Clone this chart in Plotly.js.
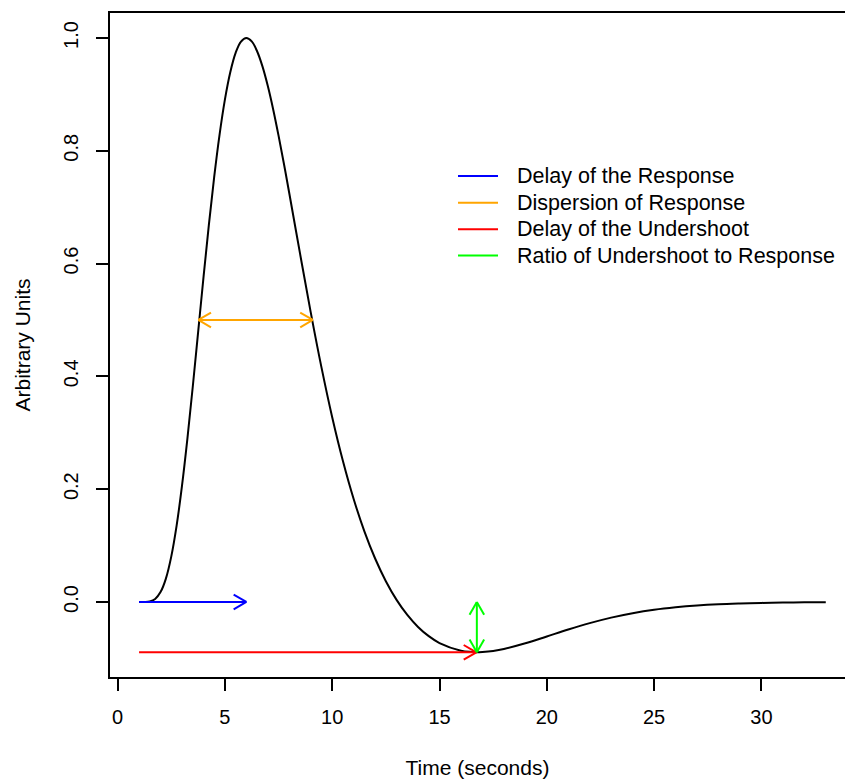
<!DOCTYPE html>
<html>
<head>
<meta charset="utf-8">
<script src="https://cdn.plot.ly/plotly-3.0.1.min.js"></script>
<style>html,body{margin:0;padding:0;background:#fff;}</style>
</head>
<body>
<div id="chart" style="width:845px;height:780px;"></div>
<script>
// ---- data ----
var timeSec = [1, 1.25, 1.5, 1.75, 2, 2.25, 2.5, 2.75, 3, 3.25, 3.5, 3.75, 4, 4.25, 4.5, 4.75,
  5, 5.25, 5.5, 5.75, 6, 6.25, 6.5, 6.75, 7, 7.25, 7.5, 7.75, 8, 8.5, 9, 9.5, 10, 10.5,
  11, 11.5, 12, 12.5, 13, 13.5, 14, 14.5, 15, 16, 16.5, 16.75, 17, 17.5, 18, 19, 20, 21, 22, 23, 24,
  25, 26, 27, 28, 29, 30, 31, 32, 33];
var response = [0, 0.00004, 0.0009, 0.0053, 0.0175, 0.0415, 0.0805, 0.1355, 0.2057, 0.2887,
  0.3807, 0.4776, 0.5746, 0.6678, 0.7533, 0.8284, 0.8908, 0.9394, 0.9737, 0.9937,
  1.0, 0.9939, 0.9765, 0.9496, 0.9147, 0.8733, 0.8268, 0.7770, 0.7248, 0.6180, 0.5135, 0.4159, 0.3276, 0.2499,
  0.1826, 0.1253, 0.0771, 0.0369, 0.0038, -0.0229, -0.0442, -0.0606, -0.0728, -0.0863, -0.0887, -0.0892, -0.0887, -0.0867, -0.0833,
  -0.0733, -0.0611, -0.0488, -0.0375, -0.0277, -0.0199, -0.0138, -0.0094, -0.0062,
  -0.0040, -0.0026, -0.0016, -0.0010, -0.0006, -0.0004];

var arrowNames = ['Delay of the Response', 'Dispersion of Response', 'Delay of the Undershoot', 'Ratio of Undershoot to Response'];
var arrowColors = ['#0000ff', '#ffa500', '#ff0000', '#00ff00'];
var arrowX0 = [1, 3.76, 1, 16.74];
var arrowX1 = [6, 9.1, 16.72, 16.74];
var arrowY0 = [0, 0.5, -0.0892, -0.0892];
var arrowY1 = [0, 0.5, -0.0892, 0];
var arrowBoth = [false, true, false, true];

var xTicks = [0, 5, 10, 15, 20, 25, 30];
var yTicks = [0, 0.2, 0.4, 0.6, 0.8, 1.0];
var yTickText = ['0.0', '0.2', '0.4', '0.6', '0.8', '1.0'];

// ---- layout constants ----
var W = 845, H = 780, ML = 110, MR = 0, MT = 13, MB = 103;
var PW = W - ML - MR, PH = H - MT - MB;
function px2paperX(px) { return (px - ML) / PW; }
function px2paperY(py) { return (H - MB - py) / PH; }
var FONT = 'Liberation Sans, Arial, Helvetica, sans-serif';

var traces = [{
  x: timeSec, y: response, type: 'scatter', mode: 'lines',
  line: {color: '#000', width: 2, shape: 'spline', smoothing: 1},
  showlegend: false, hoverinfo: 'x+y'
}];

var shapes = [];
var HEAD_L = 12.7, HEAD_W = 7.3;
function addHead(xt, yt, dirx, diry, color) {
  [1, -1].forEach(function (s) {
    var sh = {type: 'line', xref: 'x', yref: 'y', xsizemode: 'pixel', ysizemode: 'pixel',
      xanchor: xt, yanchor: yt, x1: 0, y1: 0, line: {color: color, width: 2}};
    if (dirx !== 0) { sh.x0 = -dirx * HEAD_L; sh.y0 = s * HEAD_W; }
    else { sh.x0 = s * HEAD_W; sh.y0 = -diry * HEAD_L; }
    shapes.push(sh);
  });
}

for (var i = 0; i < arrowNames.length; i++) {
  traces.push({
    x: [arrowX0[i], arrowX1[i]], y: [arrowY0[i], arrowY1[i]],
    type: 'scatter', mode: 'lines', name: arrowNames[i],
    line: {color: arrowColors[i], width: 2}, showlegend: false
  });
  var dx = Math.sign(arrowX1[i] - arrowX0[i]), dy = Math.sign(arrowY1[i] - arrowY0[i]);
  addHead(arrowX1[i], arrowY1[i], dx, dy, arrowColors[i]);
  if (arrowBoth[i]) addHead(arrowX0[i], arrowY0[i], -dx, -dy, arrowColors[i]);
}

// manual legend (R style)
var legRowsPx = [176, 202.7, 229.3, 255.5];
var annotations = [];
for (var j = 0; j < arrowNames.length; j++) {
  shapes.push({type: 'line', xref: 'paper', yref: 'paper',
    x0: px2paperX(458), x1: px2paperX(498), y0: px2paperY(legRowsPx[j]), y1: px2paperY(legRowsPx[j]),
    line: {color: arrowColors[j], width: 2}});
  annotations.push({xref: 'paper', yref: 'paper', x: px2paperX(515), y: px2paperY(legRowsPx[j]),
    xanchor: 'left', yanchor: 'middle', showarrow: false, text: arrowNames[j],
    font: {family: FONT, size: 21.5, color: '#000'}});
}

var layout = {
  width: W, height: H,
  margin: {l: ML, r: MR, t: MT, b: MB, pad: 0},
  paper_bgcolor: '#fff', plot_bgcolor: '#fff',
  font: {family: FONT, color: '#000'},
  showlegend: false,
  xaxis: {
    range: [(ML - 117.6) / 21.46, (ML - 117.6 + PW) / 21.46],
    tickvals: xTicks, ticktext: xTicks.map(String),
    ticks: 'outside', ticklen: 12, tickwidth: 2, tickcolor: '#000',
    showline: true, linecolor: '#000', linewidth: 2, mirror: true,
    showgrid: false, zeroline: false,
    tickfont: {family: FONT, size: 20, color: '#000'},
    ticklabelstandoff: 9,
    title: {text: 'Time (seconds)', font: {family: FONT, size: 21, color: '#000'}, standoff: 33}
  },
  yaxis: {
    range: [-0.133, 1.0443],
    tickvals: yTicks, ticktext: yTickText, tickangle: -90,
    ticks: 'outside', ticklen: 12, tickwidth: 2, tickcolor: '#000',
    showline: true, linecolor: '#000', linewidth: 2, mirror: false,
    showgrid: false, zeroline: false,
    tickfont: {family: FONT, size: 20, color: '#000'},
    ticklabelstandoff: 10,
    title: {text: 'Arbitrary Units', font: {family: FONT, size: 21, color: '#000'}, standoff: 24}
  },
  shapes: shapes,
  annotations: annotations
};

Plotly.newPlot('chart', traces, layout, {displayModeBar: false, staticPlot: true});
</script>
</body>
</html>
